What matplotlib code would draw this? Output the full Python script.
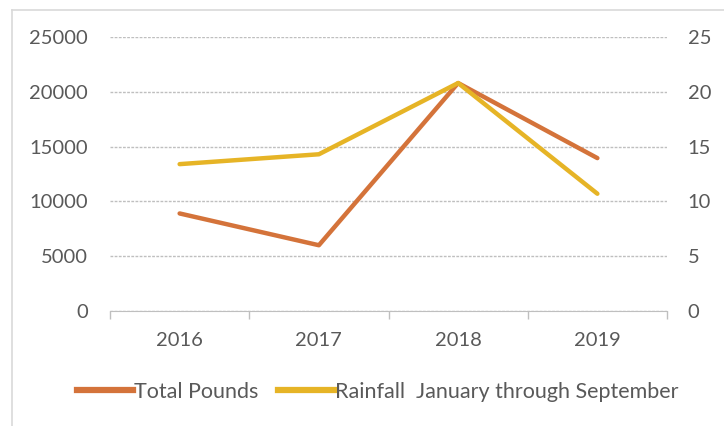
import matplotlib
matplotlib.use("Agg")
import matplotlib.pyplot as plt
from matplotlib.lines import Line2D

years = ["2016", "2017", "2018", "2019"]
total_pounds = [8900, 6000, 20800, 13950]
rainfall = [13.4, 14.3, 20.8, 10.7]

orange = "#D4733A"
gold = "#E6B426"
txt = "#595959"
grid = "#BFBFBF"

plt.rcParams["font.family"] = ["Lato", "DejaVu Sans"]

fig = plt.figure(figsize=(7.24, 4.26), dpi=100)
# chart area border (left and top edges visible)
fig.add_artist(Line2D([12 / 724, 12 / 724], [0, 1 - 10 / 426], color="#D9D9D9", lw=1.2))
fig.add_artist(Line2D([12 / 724, 1], [1 - 10 / 426, 1 - 10 / 426], color="#D9D9D9", lw=1.2))

ax = fig.add_axes([110 / 724, 1 - 311 / 426, 557 / 724, 274 / 426])
ax2 = ax.twinx()

x = range(len(years))
ax.plot(x, total_pounds, color=orange, lw=3.2, solid_capstyle="round", zorder=3)
ax2.plot(x, rainfall, color=gold, lw=3.2, solid_capstyle="round", zorder=3)

ax.set_xlim(-0.5, 3.5)
ax.set_ylim(0, 25000)
ax2.set_ylim(0, 25)
ax.set_yticks(range(0, 25001, 5000))
ax2.set_yticks(range(0, 26, 5))

ax.yaxis.grid(True, color=grid, lw=1.0, linestyle=(0, (2, 1)))
ax.set_axisbelow(True)

ax.set_xticks(list(x))
ax.set_xticklabels(years)
ax.set_xticks([-0.5, 0.5, 1.5, 2.5, 3.5], minor=True)
ax.tick_params(axis="x", which="major", length=0, pad=15, labelsize=14.5, labelcolor=txt)
ax.tick_params(axis="x", which="minor", length=6, width=1, color=grid)
ax.tick_params(axis="y", length=0, pad=16, labelsize=14.5, labelcolor=txt)
ax2.tick_params(axis="y", length=0, pad=15, labelsize=14.5, labelcolor=txt)

for a in (ax, ax2):
    for s in ("top", "left", "right"):
        a.spines[s].set_visible(False)
ax2.spines["bottom"].set_visible(False)
ax.spines["bottom"].set_color(grid)
ax.spines["bottom"].set_linestyle((0, (2, 1)))

handles = [Line2D([], [], color=orange, lw=4.5),
           Line2D([], [], color=gold, lw=4.5)]
fig.legend(handles, ["Total Pounds", "Rainfall  January through September"],
           loc="center", bbox_to_anchor=(0.522, 0.08), ncol=2, frameon=False,
           fontsize=15.5, labelcolor=txt, handlelength=2.6, handletextpad=0.05,
           columnspacing=0.9)

fig.savefig("out.png", dpi=100)
